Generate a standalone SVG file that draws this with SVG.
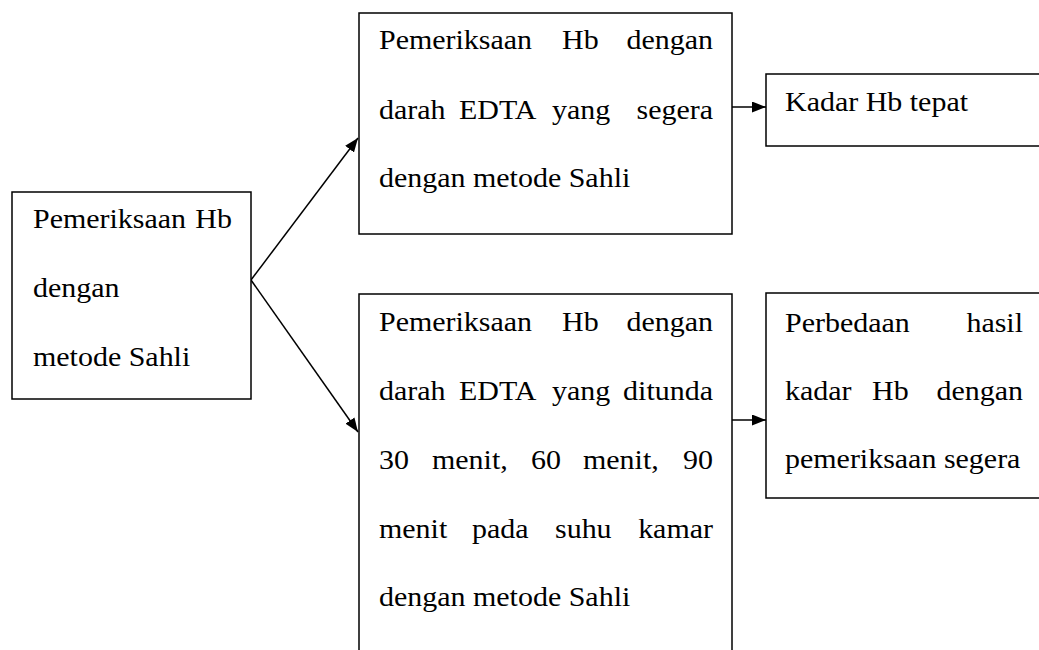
<svg xmlns="http://www.w3.org/2000/svg" width="1039" height="650" viewBox="0 0 1039 650">
<defs>
<marker id="ah" viewBox="0 0 14 11" refX="14" refY="5.5" markerWidth="14" markerHeight="11" markerUnits="userSpaceOnUse" orient="auto">
<path d="M0,0 L14,5.5 L0,11 Z" fill="#000"/>
</marker>
<style>
.box{fill:#fff;stroke:#000;stroke-width:1.5}
.t{font-family:"Liberation Serif","Times New Roman",serif;font-size:27px;fill:#000}
.e{text-anchor:end}
.c{stroke:#000;stroke-width:1.5;fill:none;marker-end:url(#ah)}
</style>
</defs>
<rect width="1039" height="650" fill="#fff"/>
<g id="connectors">
<line class="c" x1="251" y1="280" x2="358" y2="138"/>
<line class="c" x1="251" y1="280" x2="358" y2="432"/>
<line class="c" x1="732" y1="107" x2="766" y2="107"/>
<line class="c" x1="732" y1="420" x2="766" y2="420"/>
</g>
<g id="n-start">
<rect class="box" x="12" y="192" width="239" height="207"/>
<text class="t" transform="translate(33,228) scale(1.11,1)">Pemeriksaan</text>
<text class="t e" transform="translate(232,228) scale(1.11,1)">Hb</text>
<text class="t" transform="translate(33,297) scale(1.11,1)">dengan</text>
<text class="t" transform="translate(33,366) scale(1.11,1)">metode Sahli</text>
</g>
<g id="n-segera">
<rect class="box" x="359" y="13" width="373" height="221"/>
<text class="t" transform="translate(379,49) scale(1.11,1)">Pemeriksaan</text>
<text class="t" transform="translate(562,49) scale(1.11,1)">Hb</text>
<text class="t e" transform="translate(713,49) scale(1.11,1)">dengan</text>
<text class="t" transform="translate(379,119) scale(1.11,1)">darah</text>
<text class="t" transform="translate(459,119) scale(1.11,1)">EDTA</text>
<text class="t" transform="translate(552,119) scale(1.11,1)">yang</text>
<text class="t e" transform="translate(713,119) scale(1.11,1)">segera</text>
<text class="t" transform="translate(379,187) scale(1.11,1)">dengan metode Sahli</text>
</g>
<g id="n-kadar">
<rect class="box" x="766" y="74" width="290" height="72"/>
<text class="t" transform="translate(785,111) scale(1.11,1)">Kadar Hb tepat</text>
</g>
<g id="n-ditunda">
<rect class="box" x="359" y="294" width="373" height="380"/>
<text class="t" transform="translate(379,331) scale(1.11,1)">Pemeriksaan</text>
<text class="t" transform="translate(562,331) scale(1.11,1)">Hb</text>
<text class="t e" transform="translate(713,331) scale(1.11,1)">dengan</text>
<text class="t" transform="translate(379,400) scale(1.11,1)">darah</text>
<text class="t" transform="translate(459,400) scale(1.11,1)">EDTA</text>
<text class="t" transform="translate(552,400) scale(1.11,1)">yang</text>
<text class="t e" transform="translate(713,400) scale(1.11,1)">ditunda</text>
<text class="t" transform="translate(379,469) scale(1.11,1)">30</text>
<text class="t" transform="translate(432,469) scale(1.11,1)">menit,</text>
<text class="t" transform="translate(531,469) scale(1.11,1)">60</text>
<text class="t" transform="translate(583,469) scale(1.11,1)">menit,</text>
<text class="t e" transform="translate(713,469) scale(1.11,1)">90</text>
<text class="t" transform="translate(379,538) scale(1.11,1)">menit</text>
<text class="t" transform="translate(472,538) scale(1.11,1)">pada</text>
<text class="t" transform="translate(555,538) scale(1.11,1)">suhu</text>
<text class="t e" transform="translate(713,538) scale(1.11,1)">kamar</text>
<text class="t" transform="translate(379,606) scale(1.11,1)">dengan metode Sahli</text>
</g>
<g id="n-perbedaan">
<rect class="box" x="766" y="293" width="290" height="205"/>
<text class="t" transform="translate(785,332) scale(1.11,1)">Perbedaan</text>
<text class="t e" transform="translate(1023,332) scale(1.11,1)">hasil</text>
<text class="t" transform="translate(785,400) scale(1.11,1)">kadar</text>
<text class="t" transform="translate(872,400) scale(1.11,1)">Hb</text>
<text class="t e" transform="translate(1023,400) scale(1.11,1)">dengan</text>
<text class="t" transform="translate(785,468) scale(1.11,1)">pemeriksaan segera</text>
</g>
</svg>
